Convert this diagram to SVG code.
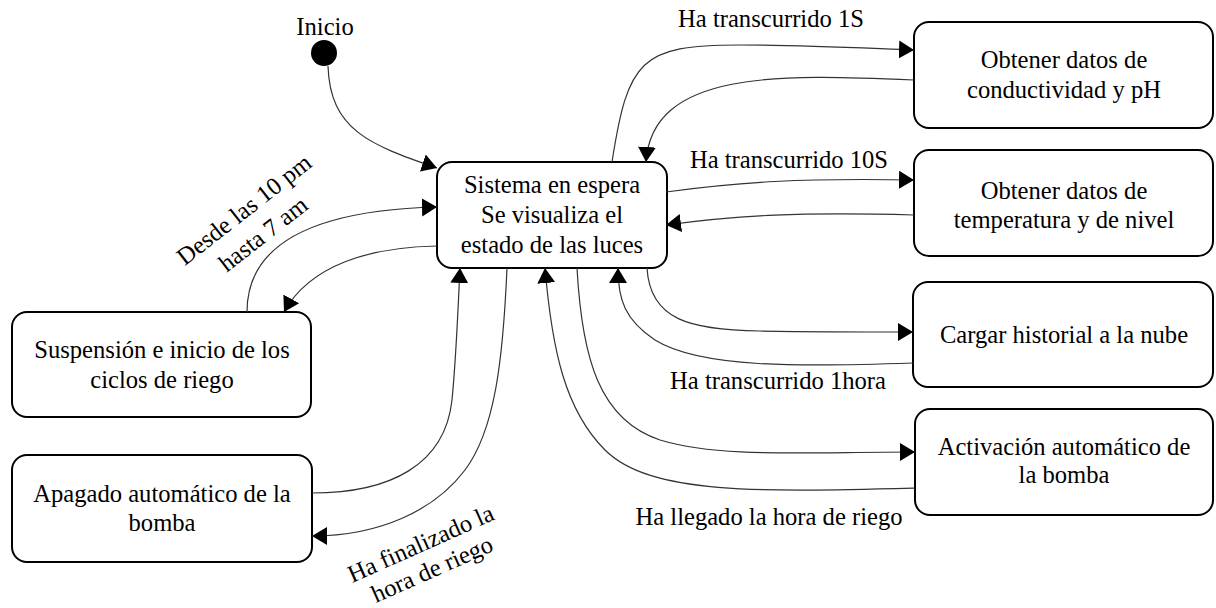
<svg xmlns="http://www.w3.org/2000/svg" width="1216" height="608" viewBox="0 0 1216 608">
<style>
  .node rect { fill: #fff; stroke: #000; stroke-width: 2; }
  text { font-family: "Times New Roman", "Liberation Serif", "DejaVu Serif", "Noto Serif", FreeSerif, serif; font-size: 24.6px; fill: #000; }
  .c { text-anchor: middle; }
  .edge { fill: none; stroke: #333; stroke-width: 1.2; }
  .arr { marker-end: url(#ah); }
</style>
<defs>
  <marker id="ah" markerUnits="userSpaceOnUse" markerWidth="16" markerHeight="20" refX="15" refY="9" orient="auto" viewBox="0 0 16 18">
    <path d="M0,0 L15,9 L0,18 z" fill="#000"/>
  </marker>
</defs>

<g id="start">
  <circle cx="324" cy="53" r="13" fill="#000"/>
  <text class="c" x="325" y="35">Inicio</text>
</g>

<g id="espera" class="node">
  <rect x="437" y="162" width="230" height="106" rx="15"/>
  <text class="c" x="552" y="193">Sistema en espera</text>
  <text class="c" x="552" y="223">Se visualiza el</text>
  <text class="c" x="552" y="253">estado de las luces</text>
</g>

<g id="conductividad" class="node">
  <rect x="914" y="22" width="299" height="106" rx="15"/>
  <text class="c" x="1064" y="68">Obtener datos de</text>
  <text class="c" x="1064" y="98">conductividad y pH</text>
</g>

<g id="temperatura" class="node">
  <rect x="914" y="150" width="299" height="106" rx="15"/>
  <text class="c" x="1064" y="199">Obtener datos de</text>
  <text class="c" x="1064" y="228">temperatura y de nivel</text>
</g>

<g id="historial" class="node">
  <rect x="913" y="282" width="300" height="105" rx="15"/>
  <text class="c" x="1064" y="343">Cargar historial a la nube</text>
</g>

<g id="activacion" class="node">
  <rect x="915" y="409" width="298" height="106" rx="15"/>
  <text class="c" x="1064" y="455">Activación automático de</text>
  <text class="c" x="1064" y="483">la bomba</text>
</g>

<g id="suspension" class="node">
  <rect x="12" y="312" width="299" height="105" rx="15"/>
  <text class="c" x="162" y="358">Suspensión e inicio de los</text>
  <text class="c" x="162" y="388">ciclos de riego</text>
</g>

<g id="apagado" class="node">
  <rect x="12" y="455" width="300" height="107" rx="15"/>
  <text class="c" x="162" y="502">Apagado automático de la</text>
  <text class="c" x="162" y="531">bomba</text>
</g>

<g id="connectors">
  <path class="edge arr" d="M328,66 C330,130 370,145 437,168"/>
  <path class="edge arr" d="M612,162 C628,60 640,45 740,45 C800,45 860,48 914,50"/>
  <path class="edge arr" d="M914,80 C780,74 652,70 646,162"/>
  <path class="edge arr" d="M666,192 C740,182 800,178 914,180"/>
  <path class="edge arr" d="M914,215 C800,212 740,215 666,225"/>
  <path class="edge arr" d="M647,268 C650,320 690,330 760,331 C820,332 870,332 913,332"/>
  <path class="edge arr" d="M913,363 C800,367 700,368 655,340 C625,320 618,300 618,268"/>
  <path class="edge arr" d="M577,268 C582,360 600,420 660,440 C720,458 800,452 915,452"/>
  <path class="edge arr" d="M915,488 C760,492 650,495 605,450 C565,410 552,350 545,268"/>
  <path class="edge arr" d="M312,493 C390,493 445,465 452,400 C456,360 458,310 460,268"/>
  <path class="edge arr" d="M507,268 C503,360 495,430 465,470 C435,510 380,536 312,536"/>
  <path class="edge arr" d="M247,312 C247,240 320,210 437,207"/>
  <path class="edge arr" d="M437,246 C370,247 310,265 284,312"/>

  <text class="c" x="771" y="27">Ha transcurrido 1S</text>
  <text class="c" x="789" y="168">Ha transcurrido 10S</text>
  <text class="c" x="778" y="389">Ha transcurrido 1hora</text>
  <text class="c" x="769" y="525">Ha llegado la hora de riego</text>
  <g transform="translate(249,216) rotate(-38)">
    <text class="c" x="0" y="0">Desde las 10 pm</text>
    <text class="c" x="0" y="31">hasta 7 am</text>
  </g>
  <g transform="translate(424,551) rotate(-24)">
    <text class="c" x="0" y="0">Ha finalizado la</text>
    <text class="c" x="0" y="28">hora de riego</text>
  </g>
</g>
</svg>
